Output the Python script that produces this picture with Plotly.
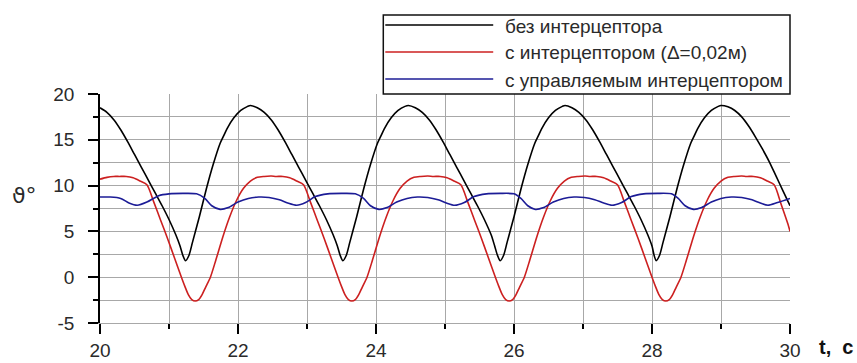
import plotly.graph_objects as go

# ---- data ----
t_black = [20.0, 20.1, 20.2, 20.3, 20.4, 20.5, 20.6, 20.7, 20.8, 20.9, 21.0, 21.1, 21.16, 21.2, 21.24,
           21.29, 21.34, 21.44, 21.54, 21.64, 21.74, 21.79, 21.84, 21.94, 22.04, 22.14, 22.18,
           22.28, 22.38, 22.48, 22.58, 22.68, 22.78, 22.88, 22.98, 23.08, 23.18, 23.28, 23.38, 23.44, 23.48, 23.52,
           23.57, 23.62, 23.72, 23.82, 23.92, 24.02, 24.07, 24.12, 24.22, 24.32, 24.42, 24.47,
           24.57, 24.67, 24.77, 24.87, 24.97, 25.07, 25.17, 25.27, 25.37, 25.47, 25.57, 25.67, 25.72, 25.76, 25.80,
           25.85, 25.90, 26.00, 26.10, 26.20, 26.30, 26.35, 26.40, 26.50, 26.60, 26.70, 26.74,
           26.84, 26.94, 27.04, 27.14, 27.24, 27.34, 27.44, 27.54, 27.64, 27.74, 27.84, 27.94, 28.0, 28.03, 28.06,
           28.11, 28.16, 28.26, 28.36, 28.46, 28.56, 28.61, 28.66, 28.76, 28.86, 28.96, 29.00,
           29.1, 29.2, 29.3, 29.4, 29.5, 29.6, 29.7, 29.8, 29.9, 30.0]
v_black = [18.5, 18.0, 17.2, 16.1, 14.8, 13.4, 12.0, 10.6, 9.2, 7.8, 6.3, 4.6, 3.4, 2.4, 1.8,
           2.4, 3.8, 6.6, 9.6, 12.3, 14.6, 15.4, 16.2, 17.4, 18.2, 18.65, 18.75,
           18.5, 18.0, 17.2, 16.1, 14.8, 13.4, 12.0, 10.6, 9.2, 7.8, 6.3, 4.6, 3.4, 2.4, 1.8,
           2.4, 3.8, 6.6, 9.6, 12.3, 14.6, 15.4, 16.2, 17.4, 18.2, 18.65, 18.75,
           18.5, 18.0, 17.2, 16.1, 14.8, 13.4, 12.0, 10.6, 9.2, 7.8, 6.3, 4.6, 3.4, 2.4, 1.8,
           2.4, 3.8, 6.6, 9.6, 12.3, 14.6, 15.4, 16.2, 17.4, 18.2, 18.65, 18.75,
           18.5, 18.0, 17.2, 16.1, 14.8, 13.4, 12.0, 10.6, 9.2, 7.8, 6.3, 4.6, 3.4, 2.4, 1.8,
           2.4, 3.8, 6.6, 9.6, 12.3, 14.6, 15.4, 16.2, 17.4, 18.2, 18.65, 18.75,
           18.6, 18.2, 17.5, 16.5, 15.3, 14.0, 12.6, 11.0, 9.4, 7.8]

t_red = [20.0, 20.1, 20.2, 20.28, 20.38, 20.48, 20.58, 20.68, 20.78, 20.88, 20.98, 21.08, 21.18, 21.23, 21.28, 21.33, 21.38,
         21.43, 21.48, 21.53, 21.60, 21.68, 21.78, 21.88, 21.98, 22.08, 22.18, 22.28, 22.38, 22.48,
         22.55, 22.65, 22.75, 22.85, 22.95, 23.05, 23.15, 23.25, 23.35, 23.45, 23.50, 23.55, 23.60, 23.65,
         23.70, 23.75, 23.80, 23.87, 23.95, 24.05, 24.15, 24.25, 24.35, 24.45, 24.55, 24.65, 24.75,
         24.83, 24.93, 25.03, 25.13, 25.23, 25.33, 25.43, 25.53, 25.63, 25.73, 25.78, 25.83, 25.88, 25.93,
         25.98, 26.03, 26.08, 26.15, 26.23, 26.33, 26.43, 26.53, 26.63, 26.73, 26.83, 26.93, 27.03,
         27.1, 27.2, 27.3, 27.4, 27.5, 27.6, 27.7, 27.8, 27.9, 28.0, 28.05, 28.1, 28.15, 28.2,
         28.25, 28.3, 28.35, 28.42, 28.5, 28.6, 28.7, 28.8, 28.9, 29.0, 29.1, 29.2, 29.3,
         29.37, 29.47, 29.57, 29.67, 29.77, 29.87, 29.97, 30.0]
v_red = [10.7, 10.9, 11.0, 11.0, 11.0, 10.85, 10.5, 10.1, 8.2, 6.2, 4.2, 2.1, 0.0, -1.0, -1.9, -2.45, -2.6,
         -2.45, -1.9, -1.1, 0.0, 1.9, 4.4, 6.6, 8.4, 9.7, 10.5, 10.9, 11.0, 11.05,
         11.0, 11.0, 10.85, 10.5, 10.1, 8.2, 6.2, 4.2, 2.1, 0.0, -1.0, -1.9, -2.45, -2.6,
         -2.45, -1.9, -1.1, 0.0, 1.9, 4.4, 6.6, 8.4, 9.7, 10.5, 10.9, 11.0, 11.05,
         11.0, 11.0, 10.85, 10.5, 10.1, 8.2, 6.2, 4.2, 2.1, 0.0, -1.0, -1.9, -2.45, -2.6,
         -2.45, -1.9, -1.1, 0.0, 1.9, 4.4, 6.6, 8.4, 9.7, 10.5, 10.9, 11.0, 11.05,
         11.0, 11.0, 10.85, 10.5, 10.1, 8.2, 6.2, 4.2, 2.1, 0.0, -1.0, -1.9, -2.45, -2.6,
         -2.45, -1.9, -1.1, 0.0, 1.9, 4.4, 6.6, 8.4, 9.7, 10.5, 10.9, 11.0, 11.05,
         11.0, 11.0, 10.85, 10.5, 10.1, 8.0, 5.8, 5.0]

t_blue = [20.0, 20.15, 20.3, 20.42, 20.54, 20.68, 20.85, 21.0, 21.2, 21.4, 21.52, 21.62, 21.74, 21.86,
          22.0, 22.15, 22.3, 22.45, 22.6, 22.72, 22.85, 22.98, 23.12, 23.3, 23.5, 23.7, 23.82, 23.92,
          24.04, 24.16, 24.3, 24.45, 24.6, 24.75, 24.9, 25.02, 25.14, 25.28, 25.42, 25.6, 25.8, 26.0,
          26.1, 26.2, 26.31, 26.43, 26.57, 26.72, 26.87, 27.02, 27.17, 27.3, 27.42, 27.56, 27.7, 27.88,
          28.08, 28.28, 28.38, 28.48, 28.6, 28.72, 28.86, 29.0, 29.15, 29.3, 29.45, 29.57, 29.68, 29.82, 30.0]
v_blue = [8.75, 8.75, 8.6, 8.1, 7.85, 8.2, 8.9, 9.1, 9.15, 9.1, 8.6, 7.8, 7.4, 7.6,
          8.2, 8.6, 8.75, 8.7, 8.45, 8.1, 7.85, 8.15, 8.8, 9.1, 9.15, 9.1, 8.6, 7.8,
          7.4, 7.6, 8.2, 8.6, 8.75, 8.7, 8.45, 8.1, 7.85, 8.15, 8.8, 9.1, 9.15, 9.1,
          8.6, 7.8, 7.4, 7.6, 8.2, 8.6, 8.75, 8.7, 8.45, 8.1, 7.85, 8.15, 8.8, 9.1,
          9.15, 9.1, 8.6, 7.8, 7.4, 7.6, 8.2, 8.6, 8.75, 8.7, 8.45, 8.1, 7.85, 8.15, 8.6]

series_names = ["без интерцептора", "с интерцептором (Δ=0,02м)", "с управляемым интерцептором"]
series_colors = ["#000000", "#cc2020", "#1c1c96"]
x_ticks = [20, 22, 24, 26, 28, 30]
y_ticks = [-5, 0, 5, 10, 15, 20]
y_tick_text = ["-5", "0", "5", "10", "15", "20"]

FONT = "Liberation Sans, Arial, sans-serif"

# plot-area geometry in pixels
W, H = 857, 363
L, R, T, B = 99.5, 790.0, 94.0, 323.0
PW, PH = R - L, B - T


def px_x(x):
    return (x - L) / PW


def px_y(y):
    return (B - y) / PH


fig = go.Figure()
for tt, vv, nm, col in zip([t_black, t_red, t_blue], [v_black, v_red, v_blue], series_names, series_colors):
    fig.add_trace(go.Scatter(x=tt, y=vv, name=nm, mode="lines", showlegend=False,
                             line=dict(color=col, width=1.6, shape="spline", smoothing=0.7)))

fig.update_layout(
    width=W, height=H,
    margin=dict(l=L, r=W - R, t=T, b=H - B, autoexpand=False),
    paper_bgcolor="white", plot_bgcolor="white",
    font=dict(family=FONT, size=19, color="#2a2a2a"),
    showlegend=False,
)

fig.update_xaxes(range=[20, 30], tickvals=x_ticks, ticks="outside", ticklen=10, tickwidth=1.5,
                 tickcolor="#000000", showgrid=True, gridcolor="#a8a8a8", gridwidth=1.2,
                 showline=True, linecolor="#a8a8a8", linewidth=1.2, zeroline=False,
                 minor=dict(dtick=1, showgrid=True, gridcolor="#a8a8a8", gridwidth=1.2,
                            ticks="outside", ticklen=5, tickcolor="#000000"),
                 ticklabelstandoff=0)
fig.update_yaxes(range=[-5, 20], tickvals=y_ticks, ticktext=y_tick_text, ticks="outside", ticklen=10,
                 tickwidth=1.5, tickcolor="#000000", showgrid=True, gridcolor="#a8a8a8", gridwidth=1.2,
                 showline=True, linecolor="#000000", linewidth=1.5, zeroline=False,
                 minor=dict(dtick=2.5, showgrid=True, gridcolor="#a8a8a8", gridwidth=1.2,
                            ticks="outside", ticklen=5, tickcolor="#000000"),
                 ticklabelstandoff=10)

# legend box (drawn as shapes + text, like the original's boxed legend)
box_x0, box_x1, box_y0, box_y1 = 383, 790, 15, 94
fig.add_shape(type="rect", xref="paper", yref="paper",
              x0=px_x(box_x0), x1=px_x(box_x1), y0=px_y(box_y1), y1=px_y(box_y0),
              fillcolor="white", line=dict(color="#111111", width=1.5), layer="above")
row_y = [25, 52, 79]
for nm, col, ry in zip(series_names, series_colors, row_y):
    fig.add_shape(type="line", xref="paper", yref="paper",
                  x0=px_x(385), x1=px_x(493), y0=px_y(ry), y1=px_y(ry),
                  line=dict(color=col, width=1.5), layer="above")
    fig.add_annotation(text=nm, xref="paper", yref="paper", x=px_x(503), y=px_y(ry + 1),
                       showarrow=False, xanchor="left", yanchor="middle",
                       font=dict(family=FONT, size=19, color="#2a2a2a"))

fig.add_annotation(text="ϑ°", xref="paper", yref="paper", x=px_x(24), y=px_y(195),
                   showarrow=False, font=dict(family="DejaVu Sans, sans-serif", size=22, color="#2a2a2a"),
                   xanchor="center", yanchor="middle")
fig.add_annotation(text="t,  c", xref="paper", yref="paper", x=px_x(836), y=px_y(347),
                   showarrow=False, font=dict(family=FONT, size=20, color="#111111", weight="bold"),
                   xanchor="center", yanchor="middle")

fig.write_html("out.html")
